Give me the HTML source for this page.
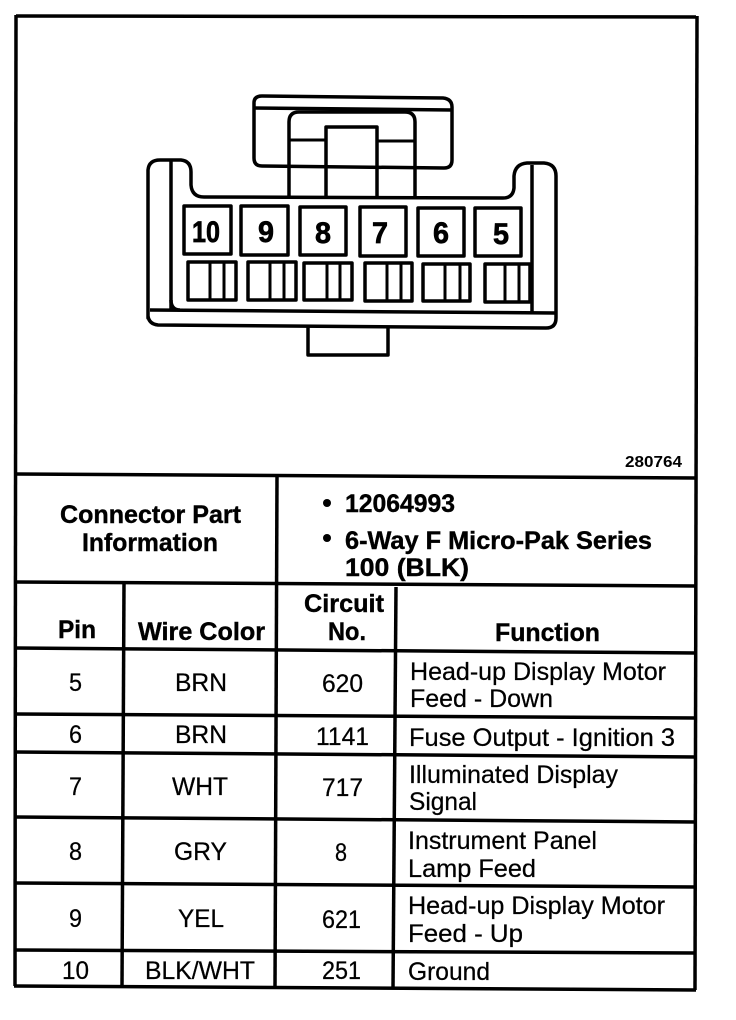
<!DOCTYPE html>
<html><head><meta charset="utf-8"><style>
html,body{margin:0;padding:0;background:#fff}
svg{display:block}
text{font-family:"Liberation Sans",sans-serif;fill:#000}
.b{font-weight:bold;font-size:25px;stroke:#000;stroke-width:.4}
.r{font-size:25px;stroke:#000;stroke-width:.25}
.n{font-weight:bold;font-size:30px;stroke:#000;stroke-width:.7}
.t line{stroke:#000;stroke-width:3.5}
.c{fill:none;stroke:#000;stroke-width:3.5;stroke-linejoin:round}
.m{fill:none;stroke:#000;stroke-width:3}
</style></head><body>
<svg width="736" height="1020" viewBox="0 0 736 1020" xmlns="http://www.w3.org/2000/svg">
<rect width="736" height="1020" fill="#fff"/>
<g class="t">
<line x1="16" y1="16" x2="696" y2="17"/>
<line x1="16" y1="15" x2="15" y2="986"/>
<line x1="697" y1="16" x2="695" y2="990"/>
<line x1="15" y1="474" x2="696" y2="478"/>
<line x1="15" y1="582" x2="696" y2="586"/>
<line x1="15" y1="648" x2="696" y2="653"/>
<line x1="15" y1="714" x2="696" y2="718"/>
<line x1="15" y1="752" x2="696" y2="757"/>
<line x1="15" y1="817" x2="696" y2="822"/>
<line x1="15" y1="883" x2="696" y2="887"/>
<line x1="15" y1="950" x2="696" y2="953"/>
<line x1="14" y1="986" x2="696" y2="990"/>
<line x1="277" y1="476" x2="275" y2="988"/>
<line x1="124" y1="583" x2="122" y2="987"/>
<line x1="396" y1="587" x2="393" y2="989"/>
</g>
<g>
<path class="c" d="M254 103Q254 96 262 96L443 98Q452 99 452 107L452 160Q452 168 444 168L262 166Q254 166 254 158Z"/>
<line class="c" x1="254" y1="108" x2="452" y2="110"/>
<path class="c" d="M289 197V122Q289 112 299 112H405Q415 112 415 122V197"/>
<path class="c" d="M326 197V127H377V197"/>
<line class="m" x1="289" y1="140" x2="326" y2="140"/>
<line class="m" x1="377" y1="141" x2="415" y2="141"/>
<path class="c" d="M148 318V170Q149 160 160 160H181Q191 161 191 172V185Q192 197 204 197L503 198Q513 198 514 188V176Q515 164 527 163H544Q556 164 556 176V318Q556 328 546 328L158 325Q149 324 148 316Z"/>
<line class="c" x1="171" y1="161" x2="171" y2="310"/>
<line class="c" x1="532" y1="165" x2="532" y2="313"/>
<path class="c" d="M150 310L555 313"/>
<path class="c" d="M171 300Q171 310 180 310"/>
<path class="c" d="M308 326V355H388V327"/>
<rect class="c" x="184" y="206" width="47" height="48"/>
<rect class="c" x="241" y="206" width="47" height="49"/>
<rect class="c" x="300" y="207" width="46" height="48"/>
<rect class="c" x="360" y="207" width="46" height="49"/>
<rect class="c" x="418" y="208" width="46" height="48"/>
<rect class="c" x="475" y="208" width="46" height="48"/>
<rect class="c" x="188" y="262" width="48" height="38"/><path class="m" d="M210 262V300M224 262V300"/>
<rect class="c" x="248" y="262" width="48" height="38"/><path class="m" d="M270 262V300M284 262V300"/>
<rect class="c" x="304" y="263" width="48" height="37"/><path class="m" d="M327 263V300M340 263V300"/>
<rect class="c" x="365" y="263" width="47" height="38"/><path class="m" d="M387 263V301M401 263V301"/>
<rect class="c" x="423" y="264" width="47" height="37"/><path class="m" d="M445 264V301M460 264V301"/>
<rect class="c" x="485" y="264" width="45" height="38"/><path class="m" d="M505 264V302M519 264V302"/>
</g>
<text class="n" x="192" y="242" textLength="28" lengthAdjust="spacingAndGlyphs">10</text>
<text class="n" x="258" y="242" textLength="16" lengthAdjust="spacingAndGlyphs">9</text>
<text class="n" x="315" y="243" textLength="16" lengthAdjust="spacingAndGlyphs">8</text>
<text class="n" x="372" y="243" textLength="16" lengthAdjust="spacingAndGlyphs">7</text>
<text class="n" x="433" y="243" textLength="16" lengthAdjust="spacingAndGlyphs">6</text>
<text class="n" x="493" y="244" textLength="16" lengthAdjust="spacingAndGlyphs">5</text>
<text x="625" y="467" font-size="16" font-weight="bold" textLength="57" lengthAdjust="spacingAndGlyphs">280764</text>
<g class="b">
<text x="60" y="523" textLength="181" lengthAdjust="spacingAndGlyphs">Connector Part</text>
<text x="82" y="551" textLength="136" lengthAdjust="spacingAndGlyphs">Information</text>
<text x="345" y="512" textLength="110" lengthAdjust="spacingAndGlyphs">12064993</text>
<text x="345" y="549" textLength="307" lengthAdjust="spacingAndGlyphs">6-Way F Micro-Pak Series</text>
<text x="345" y="576" textLength="124" lengthAdjust="spacingAndGlyphs">100 (BLK)</text>
<text x="58" y="638" textLength="38" lengthAdjust="spacingAndGlyphs">Pin</text>
<text x="138" y="640" textLength="127" lengthAdjust="spacingAndGlyphs">Wire Color</text>
<text x="304" y="612" textLength="80" lengthAdjust="spacingAndGlyphs">Circuit</text>
<text x="328" y="640" textLength="38" lengthAdjust="spacingAndGlyphs">No.</text>
<text x="495" y="641" textLength="105" lengthAdjust="spacingAndGlyphs">Function</text>
</g>
<circle cx="327" cy="503" r="4"/><circle cx="327" cy="538" r="4"/>
<g class="r">
<text x="69" y="691" textLength="13" lengthAdjust="spacingAndGlyphs">5</text>
<text x="175" y="691" textLength="52" lengthAdjust="spacingAndGlyphs">BRN</text>
<text x="322" y="692" textLength="41" lengthAdjust="spacingAndGlyphs">620</text>
<text x="410" y="680" textLength="256" lengthAdjust="spacingAndGlyphs">Head-up Display Motor</text>
<text x="410" y="707" textLength="143" lengthAdjust="spacingAndGlyphs">Feed - Down</text>
<text x="69" y="743" textLength="13" lengthAdjust="spacingAndGlyphs">6</text>
<text x="175" y="743" textLength="52" lengthAdjust="spacingAndGlyphs">BRN</text>
<text x="316" y="745" textLength="53" lengthAdjust="spacingAndGlyphs">1141</text>
<text x="409" y="746" textLength="266" lengthAdjust="spacingAndGlyphs">Fuse Output - Ignition 3</text>
<text x="69" y="795" textLength="13" lengthAdjust="spacingAndGlyphs">7</text>
<text x="172" y="795" textLength="56" lengthAdjust="spacingAndGlyphs">WHT</text>
<text x="322" y="796" textLength="41" lengthAdjust="spacingAndGlyphs">717</text>
<text x="409" y="783" textLength="209" lengthAdjust="spacingAndGlyphs">Illuminated Display</text>
<text x="409" y="810" textLength="68" lengthAdjust="spacingAndGlyphs">Signal</text>
<text x="69" y="860" textLength="13" lengthAdjust="spacingAndGlyphs">8</text>
<text x="174" y="860" textLength="53" lengthAdjust="spacingAndGlyphs">GRY</text>
<text x="335" y="861" textLength="12" lengthAdjust="spacingAndGlyphs">8</text>
<text x="408" y="849" textLength="189" lengthAdjust="spacingAndGlyphs">Instrument Panel</text>
<text x="408" y="877" textLength="128" lengthAdjust="spacingAndGlyphs">Lamp Feed</text>
<text x="69" y="927" textLength="13" lengthAdjust="spacingAndGlyphs">9</text>
<text x="178" y="927" textLength="46" lengthAdjust="spacingAndGlyphs">YEL</text>
<text x="322" y="928" textLength="39" lengthAdjust="spacingAndGlyphs">621</text>
<text x="408" y="914" textLength="257" lengthAdjust="spacingAndGlyphs">Head-up Display Motor</text>
<text x="408" y="942" textLength="115" lengthAdjust="spacingAndGlyphs">Feed - Up</text>
<text x="62" y="979" textLength="27" lengthAdjust="spacingAndGlyphs">10</text>
<text x="145" y="979" textLength="110" lengthAdjust="spacingAndGlyphs">BLK/WHT</text>
<text x="322" y="979" textLength="39" lengthAdjust="spacingAndGlyphs">251</text>
<text x="408" y="980" textLength="82" lengthAdjust="spacingAndGlyphs">Ground</text>
</g>
</svg>
</body></html>
